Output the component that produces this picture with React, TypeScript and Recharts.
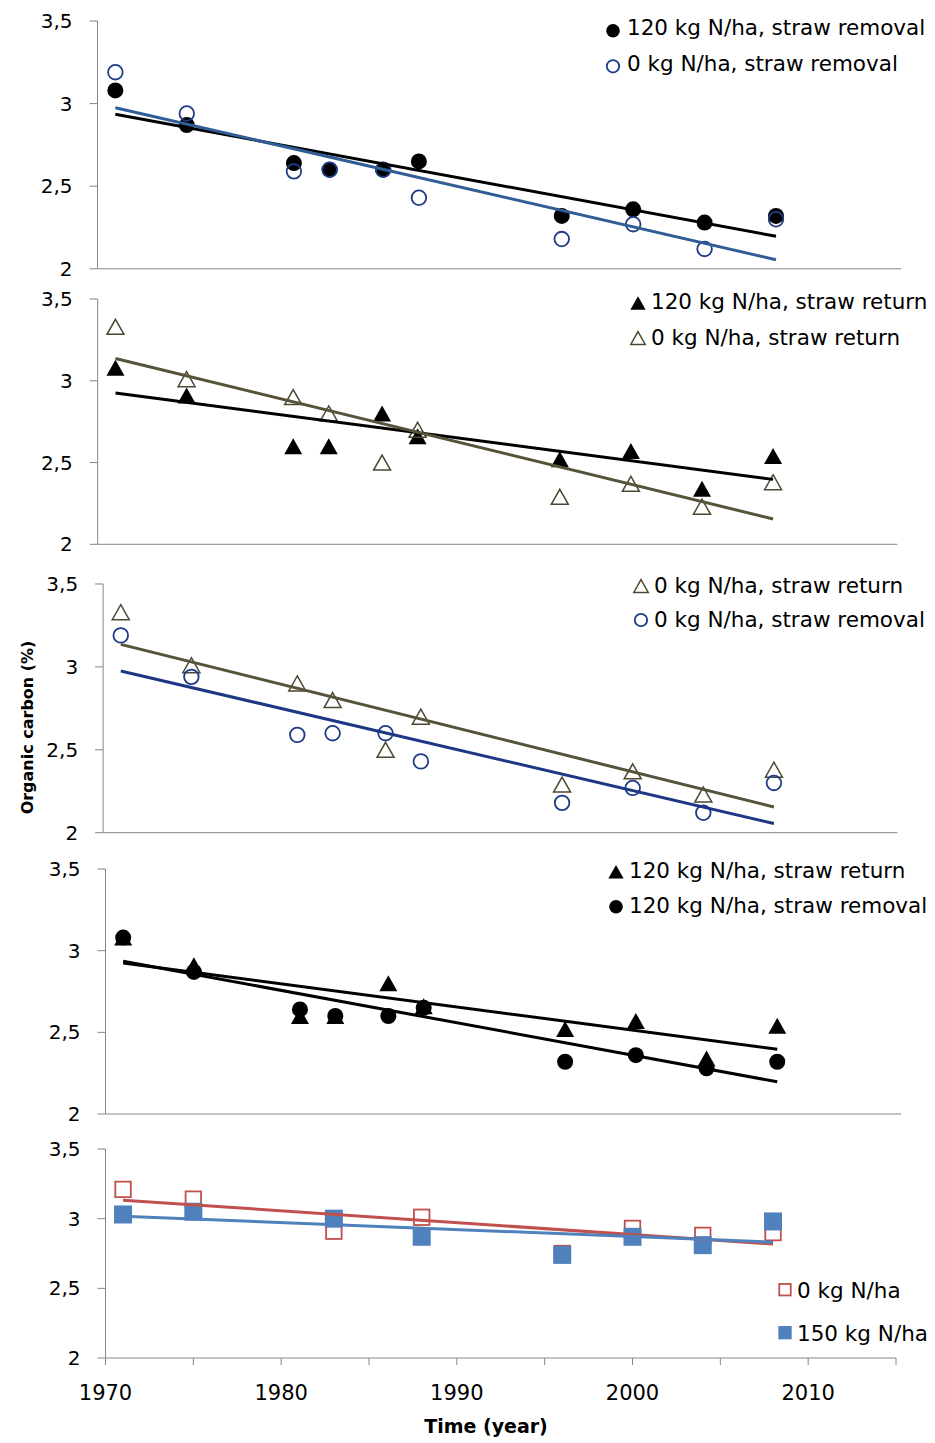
import React from 'react'
import { ScatterChart, Scatter, XAxis, YAxis, Legend, Label } from 'recharts'

// sampling years
const years = [1971, 1975, 1981, 1983, 1986, 1988, 1996, 2000, 2004, 2008]
const yearsB = [1971, 1975, 1983, 1988, 1996, 2000, 2004, 2008]

// organic carbon (%)
const n120Removal = [3.08, 2.87, 2.64, 2.6, 2.6, 2.65, 2.32, 2.36, 2.28, 2.32]
const n0Removal = [3.19, 2.94, 2.59, 2.6, 2.6, 2.43, 2.18, 2.27, 2.12, 2.3]
const n120Return = [3.08, 2.91, 2.6, 2.6, 2.8, 2.66, 2.52, 2.57, 2.34, 2.54]
const n0Return = [3.33, 3.01, 2.9, 2.8, 2.5, 2.7, 2.29, 2.37, 2.23, 2.38]
const n0 = [3.21, 3.14, 2.91, 3.01, 2.75, 2.93, 2.88, 2.9]
const n150 = [3.03, 3.05, 3.0, 2.87, 2.74, 2.87, 2.81, 2.98]

// linear trend line ends
const trendYears = [1971, 2008]
const trend120Removal = [2.935, 2.197]
const trend0Removal = [2.975, 2.055]
const trend120Return = [2.925, 2.397]
const trend0Return = [3.136, 2.155]
const trend0 = [3.133, 2.818]
const trend150 = [3.018, 2.831]

const yTicks = [2, 2.5, 3, 3.5]
const xTicks = [1970, 1975, 1980, 1985, 1990, 1995, 2000, 2005, 2010, 2015]

const FONT = 'DejaVu Sans'
const AXIS = '#868686'
const BLACK = '#000000'
const NAVY = '#1f3b87'
const STEEL = '#2f5e96'
const OLIVE = '#4d4832'
const OLIVE_LINE = '#57523a'
const RED = '#c0504d'
const BLUE = '#4f81bd'

type Kind = 'circle' | 'triangle' | 'square'
type Pt = { year: number; v: number }

const toPts = (xs: number[], vs: number[]): Pt[] => xs.map((year, i) => ({ year, v: vs[i] }))

function marker(kind: Kind, color: string, filled: boolean, cx: number, cy: number, k = 1) {
  if (kind === 'circle') {
    return filled ? (
      <circle cx={cx} cy={cy} r={8 * k} fill={color} />
    ) : (
      <circle cx={cx} cy={cy} r={7.3 * k} fill="none" stroke={color} strokeWidth={1.8} />
    )
  }
  if (kind === 'triangle') {
    const w = (filled ? 18 : 17) * k
    const h = (filled ? 16 : 15) * k
    const pts = `${cx},${cy - h / 2} ${cx + w / 2},${cy + h / 2} ${cx - w / 2},${cy + h / 2}`
    return filled ? (
      <polygon points={pts} fill={color} />
    ) : (
      <polygon points={pts} fill="none" stroke={color} strokeWidth={1.5} />
    )
  }
  const s = (filled ? 18 : 15.5) * k
  return filled ? (
    <rect x={cx - s / 2} y={cy - s / 2} width={s} height={s} fill={color} />
  ) : (
    <rect x={cx - s / 2} y={cy - s / 2} width={s} height={s} fill="none" stroke={color} strokeWidth={1.8} />
  )
}

type SeriesCfg = { name: string; data: Pt[]; kind: Kind; color: string; filled: boolean }
type TrendCfg = { data: Pt[]; color: string }
type LegendRow = { label: string; kind: Kind; color: string; filled: boolean; my: number; base: number }
type PanelCfg = {
  left: number
  right: number
  top: number
  bottom: number
  series: SeriesCfg[]
  trends: TrendCfg[]
  legendX: number
  textX: number
  legend: LegendRow[]
  last?: boolean
  yLabel?: boolean
}

const panels: PanelCfg[] = [
  {
    left: 97.5, right: 901, top: 20.7, bottom: 268.5,
    series: [
      { name: 'a', data: toPts(years, n120Removal), kind: 'circle', color: BLACK, filled: true },
      { name: 'b', data: toPts(years, n0Removal), kind: 'circle', color: NAVY, filled: false },
    ],
    trends: [
      { data: toPts(trendYears, trend120Removal), color: BLACK },
      { data: toPts(trendYears, trend0Removal), color: STEEL },
    ],
    legendX: 613, textX: 627,
    legend: [
      { label: '120 kg N/ha, straw removal', kind: 'circle', color: BLACK, filled: true, my: 30.5, base: 34.5 },
      { label: '0 kg N/ha, straw removal', kind: 'circle', color: NAVY, filled: false, my: 66, base: 70.5 },
    ],
  },
  {
    left: 97.7, right: 897.5, top: 299, bottom: 544.3,
    series: [
      { name: 'a', data: toPts(years, n120Return), kind: 'triangle', color: BLACK, filled: true },
      { name: 'b', data: toPts(years, n0Return), kind: 'triangle', color: OLIVE, filled: false },
    ],
    trends: [
      { data: toPts(trendYears, trend120Return), color: BLACK },
      { data: toPts(trendYears, trend0Return), color: OLIVE_LINE },
    ],
    legendX: 638, textX: 651,
    legend: [
      { label: '120 kg N/ha, straw return', kind: 'triangle', color: BLACK, filled: true, my: 303, base: 309 },
      { label: '0 kg N/ha, straw return', kind: 'triangle', color: OLIVE, filled: false, my: 338, base: 344.5 },
    ],
  },
  {
    left: 103.1, right: 897.5, top: 584, bottom: 832.7, yLabel: true,
    series: [
      { name: 'a', data: toPts(years, n0Return), kind: 'triangle', color: OLIVE, filled: false },
      { name: 'b', data: toPts(years, n0Removal), kind: 'circle', color: NAVY, filled: false },
    ],
    trends: [
      { data: toPts(trendYears, trend0Return), color: OLIVE_LINE },
      { data: toPts(trendYears, trend0Removal), color: '#1c3784' },
    ],
    legendX: 641, textX: 654,
    legend: [
      { label: '0 kg N/ha, straw return', kind: 'triangle', color: OLIVE, filled: false, my: 586, base: 592.5 },
      { label: '0 kg N/ha, straw removal', kind: 'circle', color: NAVY, filled: false, my: 620, base: 627 },
    ],
  },
  {
    left: 105.5, right: 901, top: 869.3, bottom: 1114.3,
    series: [
      { name: 'a', data: toPts(years, n120Return), kind: 'triangle', color: BLACK, filled: true },
      { name: 'b', data: toPts(years, n120Removal), kind: 'circle', color: BLACK, filled: true },
    ],
    trends: [
      { data: toPts(trendYears, trend120Return), color: BLACK },
      { data: toPts(trendYears, trend120Removal), color: BLACK },
    ],
    legendX: 616, textX: 629,
    legend: [
      { label: '120 kg N/ha, straw return', kind: 'triangle', color: BLACK, filled: true, my: 872, base: 878.5 },
      { label: '120 kg N/ha, straw removal', kind: 'circle', color: BLACK, filled: true, my: 907, base: 913.5 },
    ],
  },
  {
    left: 105.5, right: 896, top: 1149.3, bottom: 1358.3, last: true,
    series: [
      { name: 'a', data: toPts(yearsB, n0), kind: 'square', color: RED, filled: false },
      { name: 'b', data: toPts(yearsB, n150), kind: 'square', color: BLUE, filled: true },
    ],
    trends: [
      { data: toPts(trendYears, trend0), color: RED },
      { data: toPts(trendYears, trend150), color: BLUE },
    ],
    legendX: 785, textX: 797,
    legend: [
      { label: '0 kg N/ha', kind: 'square', color: RED, filled: false, my: 1290, base: 1298 },
      { label: '150 kg N/ha', kind: 'square', color: BLUE, filled: true, my: 1333, base: 1341 },
    ],
  },
]

const fmtY = (v: number) => String(v).replace('.', ',')

function Panel({ cfg }: { cfg: PanelCfg }) {
  const chartTop = cfg.top - 20
  const xH = cfg.last ? 90 : 18
  const height = cfg.bottom - cfg.top + 20 + xH
  const yAxisW = 60

  const legendContent = () => (
    <svg width={935} height={height} style={{ position: 'absolute', left: 0, top: 0, overflow: 'visible' }}>
      {cfg.legend.map((r) => (
        <g key={r.label}>
          {marker(r.kind, r.color, r.filled, cfg.legendX, r.my - chartTop, r.kind === 'square' ? 0.74 : 0.85)}
          <text x={cfg.textX} y={r.base - chartTop} fontFamily={FONT} fontSize={21.5} fill="#000">
            {r.label}
          </text>
        </g>
      ))}
    </svg>
  )

  return (
    <div style={{ position: 'absolute', left: 0, top: chartTop, width: 935, height }}>
      <ScatterChart
        width={935}
        height={height}
        style={{ overflow: 'visible' }}
        margin={{ top: 20, right: 935 - cfg.right, bottom: 0, left: cfg.left - yAxisW }}
      >
        <XAxis
          type="number"
          dataKey="year"
          domain={[1970, 2015]}
          ticks={xTicks}
          interval={0}
          height={xH}
          axisLine={{ stroke: AXIS }}
          tickLine={{ stroke: AXIS }}
          tickSize={7}
          tickMargin={20}
          tick={cfg.last ? { fill: '#000', fontSize: 21, fontFamily: FONT } : false}
          tickFormatter={(v: number) => (v % 10 === 0 ? String(v) : '')}
        >
          {cfg.last && (
            <Label
              content={() => (
                <text x={486} y={1433 - chartTop} textAnchor="middle" fontFamily={FONT} fontWeight="bold" fontSize={19} fill="#000">
                  Time (year)
                </text>
              )}
            />
          )}
        </XAxis>
        <YAxis
          type="number"
          dataKey="v"
          domain={[2, 3.5]}
          ticks={yTicks}
          interval={0}
          width={yAxisW}
          axisLine={{ stroke: AXIS }}
          tickLine={{ stroke: AXIS }}
          tickSize={8}
          tickMargin={17}
          tick={{ fill: '#000', fontSize: 20, fontFamily: FONT }}
          tickFormatter={fmtY}
        >
          {cfg.yLabel && (
            <Label
              content={() => (
                <text
                  x={33}
                  y={727.5 - chartTop}
                  transform={`rotate(-90 33 ${727.5 - chartTop})`}
                  textAnchor="middle"
                  fontFamily={FONT}
                  fontWeight="bold"
                  fontSize={16}
                  fill="#000"
                >
                  Organic carbon (%)
                </text>
              )}
            />
          )}
        </YAxis>
        <Legend
          layout="horizontal"
          verticalAlign="middle"
          align="center"
          wrapperStyle={{ left: 0, top: 0, width: 935, height, pointerEvents: 'none' }}
          content={legendContent}
        />
        {cfg.series.map((s) => (
          <Scatter
            key={s.name}
            name={s.name}
            data={s.data}
            isAnimationActive={false}
            shape={(p: any) => marker(s.kind, s.color, s.filled, p.cx, p.cy)}
          />
        ))}
        {cfg.trends.map((t, i) => (
          <Scatter
            key={'t' + i}
            name={'trend' + i}
            data={t.data}
            isAnimationActive={false}
            line={{ stroke: t.color, strokeWidth: 3 }}
            shape={() => <g />}
          />
        ))}
      </ScatterChart>
    </div>
  )
}

export default function App() {
  return (
    <div style={{ position: 'absolute', left: 0, top: 0, width: 935, height: 1443, background: '#fff' }}>
      {panels.map((p, i) => (
        <Panel key={i} cfg={p} />
      ))}
    </div>
  )
}
